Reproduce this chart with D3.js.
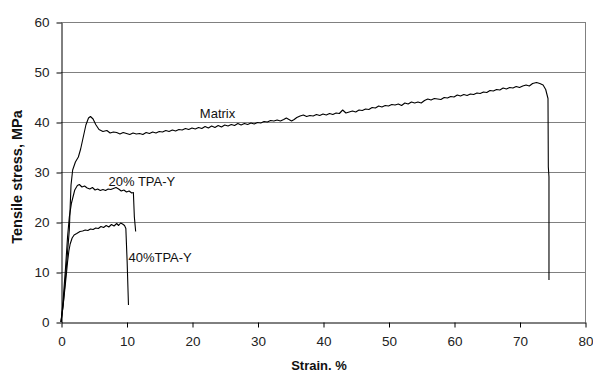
<!DOCTYPE html>
<html>
<head>
<meta charset="utf-8">
<script src="https://cdn.jsdelivr.net/npm/d3@7"></script>
<style>
  html, body { margin: 0; padding: 0; background: #fff; }
  svg { display: block; font-family: "Liberation Sans", Arial, sans-serif; }
</style>
</head>
<body>
<svg id="chart" width="593" height="372"></svg>
<script>
// Stress–strain curves: [strain %, tensile stress MPa]
const matrix = [
  [0,0],[0.3,3],[0.7,9],[1.0,14],[1.27,18.4],[1.4,23],[1.53,27.4],[1.78,30.4],[2.2,32],[2.65,33],
  [3.0,34.6],[3.3,36.4],[3.8,39.4],[4.2,40.8],[4.5,41.1],[4.9,40.6],[5.3,39.5],[5.8,38.5],[6.4,38.1],
  [7,38.3],[7.5,37.8],[8,38.0],[8.5,37.9],[9,37.6],[9.5,37.9],[10,37.7],[10.5,37.5],[11,37.8],
  [11.5,37.6],[12,37.7],[12.5,37.5],[13,37.9],[13.5,37.7],[14,38.0],[14.5,37.8],[15,38.1],[15.5,38.0],
  [16,38.3],[16.5,38.1],[17,38.4],[17.5,38.2],[18,38.5],[18.5,38.4],[19,38.7],[19.5,38.5],[20,38.8],
  [20.5,38.6],[21,38.9],[21.5,38.7],[22,39.1],[22.5,38.8],[23,39.2],[23.5,38.9],[24,39.3],[24.5,39.0],
  [25,39.4],[25.5,39.2],[26,39.5],[26.5,39.3],[27,39.7],[27.5,39.4],[28,39.7],[28.5,39.5],[29,39.8],
  [29.5,39.6],[30,39.9],[30.5,39.8],[31,40.1],[31.5,40.0],[32,40.3],[32.5,40.2],[33,40.4],[33.5,40.2],
  [34,40.5],[34.4,40.8],[35.2,40.2],[35.6,40.5],[36,40.9],[36.5,41.2],[37,41.4],[37.5,41.1],[38,41.3],
  [38.5,41.2],[39,41.5],[39.5,41.3],[40,41.6],[40.5,41.4],[41,41.7],[41.5,41.5],[42,41.8],[42.5,41.7],
  [43,42.4],[43.5,41.8],[44,42.0],[44.5,42.2],[45,42.0],[45.5,42.4],[46,42.3],[46.5,42.6],[47,42.5],
  [47.5,42.9],[48,42.8],[48.5,43.2],[49,43.0],[49.5,43.3],[50,43.2],[50.5,43.5],[51,43.4],[51.5,43.6],
  [52,43.3],[52.5,43.8],[53,43.6],[53.5,44.0],[54,43.8],[54.5,44.0],[55,43.8],[55.5,44.3],[56,44.6],
  [56.5,44.4],[57,44.7],[57.5,44.6],[58,44.5],[58.5,44.9],[59,44.8],[59.5,45.1],[60,45.0],[60.5,45.4],
  [61,45.2],[61.5,45.5],[62,45.3],[62.5,45.6],[63,45.5],[63.5,45.8],[64,45.7],[64.5,46.0],[65,45.9],
  [65.5,46.3],[66,46.2],[66.5,46.5],[67,46.4],[67.5,46.8],[68,46.6],[68.5,46.9],[69,46.8],[69.5,47.1],
  [70,46.9],[70.5,47.2],[71,47.4],[71.5,47.2],[72,47.7],[72.6,47.9],[73.1,47.7],[73.6,47.4],[74.0,46.5],
  [74.35,44.7],[74.4,31],[74.5,29],[74.5,8.4]
];

const tpa20 = [
  [0,0],[0.3,4],[0.7,11],[1.0,17],[1.27,21],[1.6,23.8],[2.1,26.4],[2.5,27.3],[2.8,27.5],[3.2,27.0],
  [3.6,27.2],[4.0,26.8],[4.4,26.6],[4.8,26.9],[5.2,26.4],[5.6,26.6],[6.0,26.3],[6.4,26.5],[6.8,26.3],
  [7.2,26.6],[7.6,26.5],[8.0,26.7],[8.4,26.9],[8.8,26.6],[9.2,26.2],[9.6,26.4],[10.0,26.0],[10.4,26.2],
  [10.8,25.8],[11.05,25.9],[11.2,21],[11.4,18.1]
];

const tpa40 = [
  [0,0],[0.3,3],[0.7,8],[1.0,12],[1.2,14.2],[1.4,15.6],[1.7,16.8],[2.0,17.4],[2.4,17.7],[2.9,18.1],
  [3.3,18.2],[3.7,18.4],[4.1,18.3],[4.5,18.6],[4.9,18.5],[5.3,18.8],[5.7,18.7],[6.1,19.1],[6.5,18.9],
  [6.9,19.3],[7.3,19.0],[7.7,19.5],[8.1,19.2],[8.5,19.7],[8.8,19.3],[9.1,19.8],[9.4,19.6],[9.7,19.3],
  [9.9,18.7],[10.1,12],[10.3,3.4]
];

const xTicks = [0, 10, 20, 30, 40, 50, 60, 70, 80];
const yTicks = [0, 10, 20, 30, 40, 50, 60];

// Curve labels: text with the [strain, stress] point where each starts
const curveLabels = [
  { text: "Matrix",    at: [21.2, 40.8] },
  { text: "20% TPA-Y", at: [7.25, 27.3] },
  { text: "40%TPA-Y",  at: [10.3, 12.0] }
];

const svg = d3.select("#chart");
const plotLeft = 61, plotRight = 585, plotTop = 22, plotBottom = 322;

const x = d3.scaleLinear().domain([0, 80]).range([plotLeft, plotRight]);
const y = d3.scaleLinear().domain([0, 60]).range([plotBottom, plotTop]);

// horizontal gridlines
svg.append("g")
  .selectAll("line")
  .data(yTicks.filter(d => d > 0))
  .join("line")
  .attr("x1", plotLeft).attr("x2", plotRight)
  .attr("y1", d => y(d) + 0.5).attr("y2", d => y(d) + 0.5)
  .attr("stroke", "#808080").attr("stroke-width", 1);

// right border of the plot area
svg.append("line")
  .attr("x1", plotRight + 0.5).attr("x2", plotRight + 0.5)
  .attr("y1", plotTop).attr("y2", plotBottom)
  .attr("stroke", "#808080");

// y axis
const yAxis = svg.append("g")
  .attr("transform", `translate(${plotLeft + 0.5},0.5)`)
  .call(d3.axisLeft(y).tickValues(yTicks).tickSize(5).tickPadding(7).tickSizeOuter(0));
yAxis.select(".domain").attr("stroke", "#000");
yAxis.selectAll(".tick line").attr("stroke", "#000");
yAxis.selectAll(".tick text")
  .attr("font-size", "13.5px").attr("fill", "#222")
  .attr("font-family", "'Liberation Sans', Arial, sans-serif");

// x axis
const xAxis = svg.append("g")
  .attr("transform", `translate(0.5,${plotBottom + 0.5})`)
  .call(d3.axisBottom(x).tickValues(xTicks).tickSize(5).tickPadding(9).tickSizeOuter(0));
xAxis.select(".domain").attr("stroke", "#000");
xAxis.selectAll(".tick line").attr("stroke", "#000");
xAxis.selectAll(".tick text")
  .attr("font-size", "13.5px").attr("fill", "#222")
  .attr("font-family", "'Liberation Sans', Arial, sans-serif");

// curves
const line = d3.line().x(d => x(d[0])).y(d => y(d[1]));
svg.append("g")
  .selectAll("path")
  .data([matrix, tpa20, tpa40])
  .join("path")
  .attr("d", line)
  .attr("fill", "none")
  .attr("stroke", "#000")
  .attr("stroke-width", 1.1)
  .attr("stroke-linejoin", "round");

// curve labels
svg.append("g")
  .selectAll("text")
  .data(curveLabels)
  .join("text")
  .attr("x", d => x(d.at[0]))
  .attr("y", d => y(d.at[1]))
  .attr("font-size", "13px")
  .attr("fill", "#111")
  .text(d => d.text);

// axis titles
svg.append("text")
  .attr("x", 319).attr("y", 370)
  .attr("text-anchor", "middle")
  .attr("font-size", "13px").attr("font-weight", "bold")
  .attr("fill", "#111")
  .text("Strain. %");

svg.append("text")
  .attr("transform", "translate(22,177) rotate(-90)")
  .attr("text-anchor", "middle")
  .attr("font-size", "14.5px").attr("font-weight", "bold")
  .attr("fill", "#111")
  .text("Tensile stress, MPa");
</script>
</body>
</html>
